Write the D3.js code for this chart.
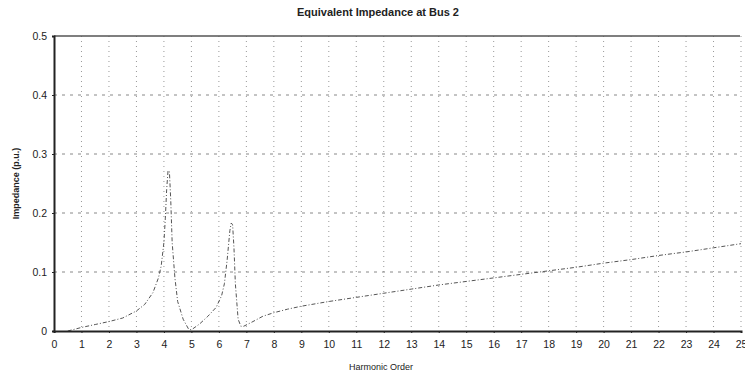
<!DOCTYPE html>
<html>
<head>
<meta charset="utf-8">
<script src="https://cdn.jsdelivr.net/npm/d3@7"></script>
<style>
  body { margin:0; background:#fff; }
  text { font-family: "Liberation Sans", Arial, sans-serif; fill:#222; }
</style>
</head>
<body>
<div id="plot"></div>
<script>
/* chart setup */
var W = 745, H = 374;
var margin = {t:36, r:5, b:43, l:54};
var width = W - margin.l - margin.r,
    height = H - margin.t - margin.b;

// harmonic order (x) and impedance in p.u. (y)
var harmonic = [0.5,1,1.5,2,2.5,3,3.3,3.6,3.8,3.9,4.0,4.05,4.1,4.15,4.2,4.25,4.3,4.4,4.5,4.7,4.9,5.0,
    5.3,5.6,5.9,6.1,6.2,6.3,6.4,6.45,6.5,6.55,6.6,6.7,6.8,6.9,7.2,7.6,8,8.5,9,10,11,12,13,14,15,16,
    17,18,19,20,21,22,23,24,25];
var impedance = [0,0.006,0.011,0.016,0.022,0.034,0.045,0.065,0.09,0.11,0.15,0.19,0.24,0.272,0.27,0.22,0.15,0.09,0.05,0.02,0.003,0.002,
    0.012,0.025,0.04,0.06,0.08,0.12,0.17,0.183,0.18,0.14,0.08,0.02,0.008,0.008,0.015,0.025,0.031,0.037,0.042,0.05,0.057,0.064,0.071,0.078,0.084,0.09,
    0.096,0.102,0.108,0.115,0.121,0.128,0.134,0.141,0.148];
var xTicks = d3.range(0, 26);
var yTicks = [0, 0.1, 0.2, 0.3, 0.4, 0.5];

var svg = d3.select('#plot').append('svg')
    .attr('width', W).attr('height', H);
var plot = svg.append('g')
    .attr('transform', 'translate(' + margin.l + ',' + margin.t + ')');

var x = d3.scaleLinear().domain([0, 25]).range([0, 687]);
var y = d3.scaleLinear().domain([0, 0.5]).range([height, 0]);

// grid
plot.selectAll('.vgrid').data(xTicks.filter(function(d){ return d > 0; }))
    .enter().append('line')
    .attr('class', 'vgrid')
    .attr('x1', function(d){ return x(d); }).attr('x2', function(d){ return x(d); })
    .attr('y1', 0).attr('y2', height)
    .attr('stroke', '#999').attr('stroke-width', 1)
    .attr('stroke-dasharray', '1,4');

plot.selectAll('.hgrid').data(yTicks.filter(function(d){ return d > 0 && d < 0.5; }))
    .enter().append('line')
    .attr('class', 'hgrid')
    .attr('x1', 0).attr('x2', width)
    .attr('y1', function(d){ return y(d); }).attr('y2', function(d){ return y(d); })
    .attr('stroke', '#888').attr('stroke-width', 1)
    .attr('stroke-dasharray', '3,5');

// top border
plot.append('line')
    .attr('x1', 0).attr('x2', width).attr('y1', 0).attr('y2', 0)
    .attr('stroke', '#555').attr('stroke-width', 1.5);

// curve
var line = d3.line()
    .x(function(d){ return x(d[0]); })
    .y(function(d){ return y(d[1]); });
plot.append('path')
    .datum(d3.zip(harmonic, impedance))
    .attr('d', line)
    .attr('fill', 'none')
    .attr('stroke', '#555')
    .attr('stroke-width', 1)
    .attr('stroke-dasharray', '4,2,1,2');

// axes
var xAxis = plot.append('g')
    .attr('transform', 'translate(0,' + height + ')')
    .call(d3.axisBottom(x).tickValues(xTicks).tickFormat(d3.format('d')).tickSize(2).tickPadding(8));
var yAxis = plot.append('g')
    .call(d3.axisLeft(y).tickValues(yTicks).tickFormat(function(d){ return d === 0 ? '0' : d3.format('.1f')(d); }).tickSize(2).tickPadding(5));
[xAxis, yAxis].forEach(function(a){
    a.select('.domain').attr('stroke', '#222').attr('stroke-width', 2);
    a.selectAll('.tick line').attr('stroke', '#222');
    a.selectAll('text').style('font-size', '10.5px').attr('fill', '#222');
});

// titles
svg.append('text')
    .attr('x', 378).attr('y', 16)
    .attr('text-anchor', 'middle')
    .style('font-size', '11px').style('font-weight', 'bold')
    .text('Equivalent Impedance at Bus 2');
svg.append('text')
    .attr('transform', 'translate(19,' + (margin.t + height / 2) + ') rotate(-90)')
    .attr('text-anchor', 'middle')
    .style('font-size', '9px').style('font-weight', 'bold')
    .text('Impedance (p.u.)');
svg.append('text')
    .attr('x', 381).attr('y', 370)
    .attr('text-anchor', 'middle')
    .style('font-size', '9px')
    .text('Harmonic Order');
</script>
</body>
</html>
